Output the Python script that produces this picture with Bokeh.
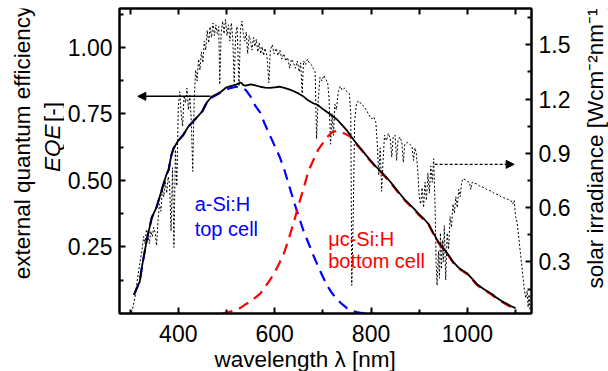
import math

from bokeh.plotting import figure
from bokeh.layouts import row
from bokeh.models import (Range1d, LinearAxis, FixedTicker, PrintfTickFormatter,
                          Arrow, NormalHead, Title)
from bokeh.core.properties import value
from bokeh.embed import file_html
from bokeh.resources import INLINE

FONT = "Liberation Sans"

# ---- total EQE of the tandem (black solid) ----
total_wl = [308, 315, 320, 325, 330, 335, 340, 345, 350, 355, 360, 365, 370, 375, 380,
            385, 390, 395, 400, 410, 420, 430, 440, 450, 455, 460, 465, 470, 480, 490,
            500, 510, 520, 525, 530, 535, 540, 550, 560, 570, 580, 590, 600, 610, 620,
            630, 640, 650, 660, 670, 680, 690, 700, 710, 720, 730, 740, 750, 760, 770,
            780, 790, 800, 810, 820, 830, 840, 850, 860, 870, 880, 890, 900, 910, 920,
            930, 940, 950, 960, 970, 980, 990, 1000, 1010, 1020, 1030, 1040, 1050, 1060,
            1070, 1080, 1090, 1100]
total_eqe = [0.07, 0.10, 0.12, 0.18, 0.23, 0.28, 0.32, 0.36, 0.38, 0.40, 0.43, 0.46, 0.49,
             0.52, 0.54, 0.59, 0.62, 0.635, 0.65, 0.67, 0.70, 0.72, 0.74, 0.76, 0.78, 0.795,
             0.805, 0.815, 0.825, 0.835, 0.85, 0.855, 0.86, 0.865, 0.868, 0.858, 0.856,
             0.861, 0.857, 0.852, 0.849, 0.848, 0.850, 0.852, 0.848, 0.842, 0.835, 0.826,
             0.815, 0.80, 0.79, 0.783, 0.768, 0.755, 0.742, 0.728, 0.708, 0.688, 0.662,
             0.638, 0.617, 0.594, 0.573, 0.552, 0.535, 0.515, 0.495, 0.472, 0.45, 0.428,
             0.41, 0.392, 0.372, 0.355, 0.335, 0.30, 0.268, 0.245, 0.222, 0.195, 0.175,
             0.162, 0.15, 0.13, 0.11, 0.097, 0.085, 0.074, 0.06, 0.048, 0.038, 0.028, 0.02]

# ---- a-Si:H top cell (blue dashed) ----
top_wl = [308, 315, 320, 325, 330, 335, 340, 345, 350, 355, 360, 365, 370, 375, 380, 385,
          390, 395, 400, 410, 420, 430, 440, 450, 460, 470, 480, 490, 500, 510, 520, 530,
          540, 550, 560, 570, 580, 590, 600, 610, 620, 630, 640, 650, 660, 670, 680, 690,
          700, 710, 720, 730, 740, 750, 760, 770, 780, 800]
top_eqe = [0.07, 0.10, 0.12, 0.18, 0.23, 0.28, 0.32, 0.36, 0.38, 0.40, 0.43, 0.46, 0.49,
           0.52, 0.54, 0.59, 0.62, 0.635, 0.65, 0.67, 0.70, 0.72, 0.74, 0.76, 0.795, 0.812,
           0.822, 0.833, 0.842, 0.848, 0.852, 0.848, 0.84, 0.815, 0.78, 0.755, 0.71, 0.67,
           0.63, 0.59, 0.54, 0.48, 0.42, 0.364, 0.31, 0.265, 0.22, 0.178, 0.138, 0.102,
           0.074, 0.052, 0.035, 0.02, 0.01, 0.005, 0.002, 0.0]

# ---- uc-Si:H bottom cell (red dashed) ----
bot_wl = [490, 500, 510, 520, 530, 540, 550, 560, 570, 580, 590, 600, 610, 620, 630, 640,
          650, 660, 670, 680, 690, 700, 710, 720, 730, 740, 750, 760, 770, 780, 790, 800,
          810, 820, 830, 840, 850, 860, 870, 880, 890, 900, 910, 920, 930, 940, 950, 960,
          970, 980, 990, 1000, 1010, 1020, 1030, 1040, 1050, 1060, 1070, 1080, 1090, 1100]
bot_eqe = [0.0, 0.003, 0.008, 0.015, 0.022, 0.035, 0.045, 0.06, 0.075, 0.10, 0.125, 0.155,
           0.19, 0.23, 0.285, 0.345, 0.41, 0.47, 0.535, 0.575, 0.615, 0.64, 0.665, 0.682,
           0.686, 0.68, 0.672, 0.66, 0.635, 0.614, 0.591, 0.57, 0.549, 0.532, 0.512, 0.492,
           0.469, 0.447, 0.425, 0.407, 0.389, 0.369, 0.352, 0.332, 0.297, 0.265, 0.242,
           0.219, 0.192, 0.172, 0.159, 0.147, 0.127, 0.107, 0.094, 0.082, 0.071, 0.057,
           0.045, 0.035, 0.025, 0.017]

# ---- solar spectrum (dotted, right axis) ----
spec_wl = [300, 305, 310, 315, 320, 325, 328, 331, 334, 337, 340, 343, 346, 349, 352, 355,
           358, 361, 364, 367, 370, 373, 376, 379, 382, 385, 388, 391, 394, 397, 400, 403,
           406, 409, 412, 415, 418, 421, 424, 427, 430, 433, 436, 439, 442, 445, 448, 451,
           454, 457, 460, 463, 466, 469, 472, 475, 478, 481, 484, 486, 489, 492, 495, 498,
           501, 504, 507, 510, 513, 516, 519, 522, 526, 529, 532, 535, 538, 541, 544, 547,
           550, 553, 556, 559, 562, 565, 568, 571, 574, 577, 580, 584, 588, 591, 595, 599,
           603, 607, 611, 615, 619, 623, 627, 631, 635, 639, 643, 647, 651, 654, 657, 660,
           664, 668, 672, 676, 680, 684, 687, 690, 694, 698, 702, 706, 710, 713, 716, 719,
           722, 725, 728, 732, 736, 740, 745, 750, 755, 758, 760, 763, 766, 770, 775, 780,
           785, 790, 794, 798, 802, 806, 810, 813, 816, 819, 822, 825, 828, 832, 836, 840,
           843, 846, 850, 853, 856, 860, 864, 867, 870, 875, 880, 885, 888, 891, 894, 897,
           900, 903, 906, 909, 912, 915, 918, 921, 924, 927, 930, 933, 935, 937, 940, 942,
           944, 946, 948, 950, 952, 955, 958, 961, 964, 967, 970, 973, 976, 979, 982, 985,
           988, 991, 995, 1000, 1004, 1007, 1010, 1015, 1020, 1025, 1030, 1035, 1040, 1045,
           1050, 1055, 1060, 1065, 1070, 1075, 1080, 1085, 1090, 1094, 1097, 1100, 1103,
           1106, 1110, 1114, 1118, 1121, 1124, 1126, 1128, 1130]
spec_irr = [0.00, 0.04, 0.10, 0.20, 0.29, 0.37, 0.44, 0.40, 0.48, 0.45, 0.40, 0.47, 0.44,
            0.49, 0.46, 0.39, 0.53, 0.62, 0.58, 0.70, 0.66, 0.74, 0.68, 0.77, 0.73, 0.47,
            0.82, 0.38, 0.92, 0.72, 1.16, 1.24, 1.12, 1.05, 1.22, 1.18, 1.26, 1.14, 1.22,
            1.08, 0.80, 1.20, 1.36, 1.30, 1.42, 1.36, 1.46, 1.40, 1.52, 1.47, 1.58, 1.51,
            1.60, 1.54, 1.62, 1.55, 1.61, 1.56, 1.60, 1.28, 1.57, 1.63, 1.56, 1.64, 1.55,
            1.61, 1.52, 1.62, 1.54, 1.29, 1.55, 1.60, 1.27, 1.58, 1.63, 1.56, 1.52, 1.57,
            1.45, 1.55, 1.52, 1.47, 1.54, 1.49, 1.53, 1.46, 1.51, 1.45, 1.49, 1.44, 1.48,
            1.44, 1.29, 1.47, 1.50, 1.45, 1.48, 1.44, 1.47, 1.42, 1.45, 1.41, 1.43, 1.37,
            1.42, 1.40, 1.37, 1.41, 1.35, 1.40, 1.23, 1.41, 1.39, 1.42, 1.40, 1.39, 1.37,
            1.35, 0.98, 1.18, 1.32, 1.30, 1.33, 1.31, 1.29, 1.20, 0.95, 1.12, 1.00, 1.17,
            1.14, 1.24, 1.27, 1.25, 1.26, 1.24, 1.23, 1.12, 0.17, 0.55, 1.08, 1.18, 1.19,
            1.17, 1.16, 1.14, 1.12, 1.10, 1.09, 1.10, 1.07, 0.95, 0.78, 0.93, 0.69, 0.86,
            1.00, 0.97, 1.01, 0.98, 0.88, 0.99, 1.00, 0.86, 0.97, 0.99, 0.96, 0.85, 0.95,
            0.96, 0.95, 0.94, 0.86, 0.93, 0.90, 0.80, 0.66, 0.62, 0.71, 0.60, 0.74, 0.64,
            0.79, 0.68, 0.83, 0.74, 0.87, 0.60, 0.30, 0.17, 0.36, 0.21, 0.46, 0.26, 0.42,
            0.30, 0.50, 0.20, 0.46, 0.37, 0.55, 0.49, 0.62, 0.57, 0.66, 0.60, 0.70, 0.66,
            0.74, 0.76, 0.755, 0.745, 0.74, 0.70, 0.74, 0.735, 0.73, 0.72, 0.715, 0.71, 0.70,
            0.695, 0.69, 0.68, 0.675, 0.67, 0.66, 0.655, 0.65, 0.645, 0.64, 0.62, 0.64, 0.55,
            0.52, 0.45, 0.35, 0.25, 0.15, 0.10, 0.14, 0.05, 0.12, 0.03]

# axis ticks
x_major = [400, 600, 800, 1000]
x_minor = [300, 500, 700, 900, 1100]
eqe_major = [0.25, 0.50, 0.75, 1.00]
eqe_minor = [0.125, 0.375, 0.625, 0.875, 1.125]
irr_major = [0.3, 0.6, 0.9, 1.2, 1.5]
irr_minor = [0.15, 0.45, 0.75, 1.05, 1.35, 1.65]

LEFT_W, RIGHT_W, H = 64, 30, 371

# ---------------- main chart ----------------
p = figure(width=608 - LEFT_W - RIGHT_W, height=H, x_range=Range1d(278, 1133),
           y_range=Range1d(0, 1.146), output_backend="svg", toolbar_location=None,
           min_border_left=53, min_border_right=47, min_border_top=8, min_border_bottom=58)
p.extra_y_ranges = {"irr": Range1d(0.015, 1.70)}
p.xgrid.visible = False
p.ygrid.visible = False
p.outline_line_color = "black"
p.outline_line_width = 2
p.background_fill_color = "white"
p.border_fill_color = "white"


def style_axis(ax, major, minor, fmt=None):
    ax.ticker = FixedTicker(ticks=major, minor_ticks=minor)
    ax.axis_line_color = "black"
    ax.axis_line_width = 2
    ax.major_tick_in = 6
    ax.major_tick_out = 0
    ax.minor_tick_in = 4
    ax.minor_tick_out = 0
    ax.major_tick_line_color = "black"
    ax.minor_tick_line_color = "black"
    ax.major_tick_line_width = 2
    ax.minor_tick_line_width = 2
    ax.major_label_text_font = FONT
    ax.major_label_text_font_size = "23px"
    ax.major_label_text_color = "black"
    ax.major_label_standoff = 6
    if fmt:
        ax.formatter = PrintfTickFormatter(format=fmt)


# bottom wavelength axis, its title set slightly left of centre
xax = p.xaxis[0]
style_axis(xax, x_major, x_minor)
xax.major_label_standoff = 11
p.add_layout(Title(text="wavelength λ [nm]", align="left", offset=95, standoff=0,
                   text_font=FONT, text_font_size="22.5px", text_font_style="normal",
                   text_color="black"), "below")

# mirrored top axis: tick marks only
top_ax = LinearAxis()
style_axis(top_ax, [], x_major + x_minor)
top_ax.minor_tick_in = 6
p.add_layout(top_ax, "above")

# left EQE axis
yax = p.yaxis[0]
style_axis(yax, eqe_major, eqe_minor, fmt="%.2f")
yax.major_label_standoff = 7

# right irradiance axis
rax = LinearAxis(y_range_name="irr")
style_axis(rax, irr_major, irr_minor, fmt="%.1f")
rax.major_label_standoff = 7
p.add_layout(rax, "right")

# curves
p.line(spec_wl, spec_irr, y_range_name="irr", line_color="black", line_width=1,
       line_dash="2 2")
p.line(top_wl, top_eqe, line_color="blue", line_width=2.2, line_dash="11 7")
p.line(bot_wl, bot_eqe, line_color="red", line_width=2.2, line_dash="11 7")
p.line(total_wl, total_eqe, line_color="black", line_width=1.8)

# arrows pointing at the matching axes
p.add_layout(Arrow(end=NormalHead(size=8, fill_color="black", line_color="black"),
                   x_start=467, y_start=0.816, x_end=316, y_end=0.816,
                   line_color="black", line_width=1.5))
p.add_layout(Arrow(end=NormalHead(size=8, fill_color="black", line_color="black"),
                   x_start=932, y_start=0.839, x_end=1097, y_end=0.839,
                   y_range_name="irr", line_color="black", line_width=1.2,
                   line_dash="3 2"))

# cell annotations
p.text(x=[434], y=[0.413], text=["a-Si:H"], text_color="blue", text_font=value(FONT),
       text_font_size="20px", text_baseline="alphabetic")
p.text(x=[434], y=[0.318], text=["top cell"], text_color="blue", text_font=value(FONT),
       text_font_size="20px", text_baseline="alphabetic")
p.text(x=[711], y=[0.279], text=["μc-Si:H"], text_color="red", text_font=value(FONT),
       text_font_size="20px", text_baseline="alphabetic")
p.text(x=[711], y=[0.1955], text=["bottom cell"], text_color="red", text_font=value(FONT),
       text_font_size="20px", text_baseline="alphabetic")


# ---------------- strips carrying the vertical axis titles ----------------
def title_strip(width):
    s = figure(width=width, height=H, x_range=Range1d(0, width), y_range=Range1d(0, H),
               x_axis_type=None, y_axis_type=None, output_backend="svg",
               toolbar_location=None, min_border=0)
    s.min_border_left = s.min_border_right = s.min_border_top = s.min_border_bottom = 0
    s.xgrid.visible = False
    s.ygrid.visible = False
    s.outline_line_color = None
    s.background_fill_color = "white"
    s.border_fill_color = "white"
    return s


title_kw = dict(angle=math.pi / 2, text_baseline="middle", text_font=value(FONT),
                text_font_size="22.5px", text_color="black")

left = title_strip(LEFT_W)
left.text(x=[22], y=[208], text=["external quantum efficiency"], text_align="center",
          **title_kw)
left.text(x=[52], y=[172], text=["EQE"], text_align="left", text_font_style="italic",
          **title_kw)
left.text(x=[52], y=[233], text=["[-]"], text_align="left", **title_kw)

right = title_strip(RIGHT_W)
right.text(x=[17], y=[204.5], text=["solar irradiance [Wcm⁻²nm⁻¹]"], text_align="center",
           **title_kw)

layout = row(left, p, right, spacing=0)

open("out.html", "w").write(file_html(layout, INLINE))
